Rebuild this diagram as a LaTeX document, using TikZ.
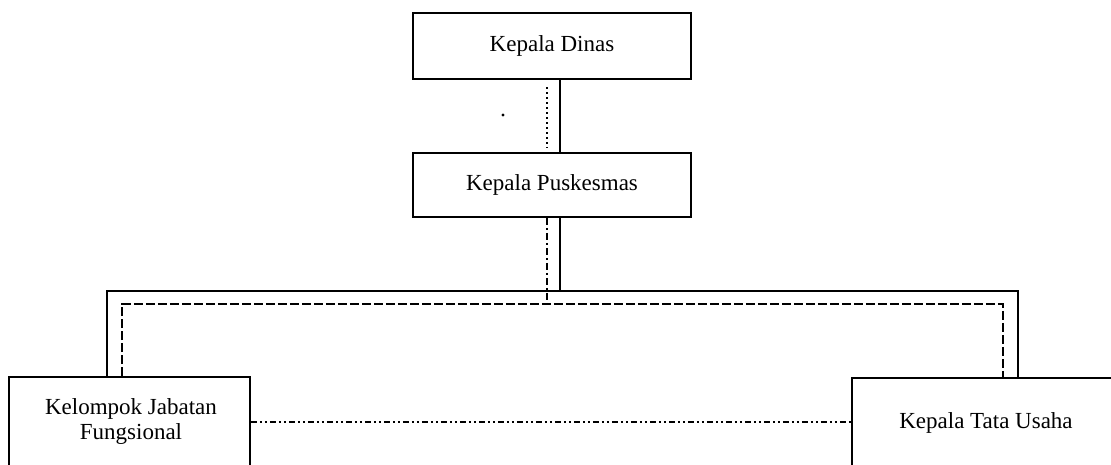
\documentclass[tikz,border=0pt]{standalone}
\usepackage{fontspec}
\setmainfont{Liberation Serif}
\begin{document}
\begin{tikzpicture}[x=1pt,y=-1pt,
  orgbox/.style={draw,line width=1.8pt,inner sep=0pt,minimum width=278pt},
  lbl/.style={font=\fontsize{23}{25}\selectfont,inner sep=0pt,align=center},
  solidline/.style={line width=1.8pt},
  dashline/.style={line width=1.5pt,dash pattern=on 9pt off 3pt},
  dashdot/.style={line width=1.5pt,dash pattern=on 7pt off 3pt on 2pt off 3pt},
  dotline/.style={line width=1.5pt,dash pattern=on 2pt off 3pt},
  dotdash/.style={line width=1.5pt,dash pattern=on 6pt off 3pt on 2pt off 3pt on 2pt off 3pt}]
\useasboundingbox (0,0) rectangle (1111,464);
\clip (0,0) rectangle (1111,464);
\fill[white] (0,0) rectangle (1111,464);
% boxes
\node[orgbox,minimum height=66pt] (dinas) at (552,46) {};
\node[orgbox,minimum height=64pt] (pusk) at (552,185) {};
\node[orgbox,minimum width=241pt,minimum height=113pt] (kjf) at (129.5,433.5) {};
\node[orgbox,minimum width=300pt,minimum height=113pt] (ktu) at (1002,434.5) {};
% labels
\node[lbl] (tdinas) at (552,46) {Kepala Dinas};
\node[lbl] (tpusk) at (552,185) {Kepala Puskesmas};
\node[lbl] (tkjf) at (131,421) {Kelompok Jabatan\\Fungsional};
\node[lbl] (tktu) at (986,423) {Kepala Tata Usaha};
% reference coordinates
\coordinate (sx) at (560,0);
\coordinate (dx) at (547,0);
\coordinate (lsx) at (107,0);
\coordinate (rsx) at (1018,0);
\coordinate (ldx) at (122,0);
\coordinate (rdx) at (1003,0);
\coordinate (sbar) at (0,291);
\coordinate (dbar) at (0,304);
\coordinate (dtop) at (0,87);
\coordinate (dbot) at (0,148);
\coordinate (hy) at (0,422);
\coordinate (dot1) at (503,115);
% solid line of command
\draw[solidline] (dinas.south -| sx) -- (pusk.north -| sx);
\draw[solidline] (pusk.south -| sx) -- (sx |- sbar);
\draw[solidline] (kjf.north -| lsx) |- (rsx |- sbar) -- (ktu.north -| rsx);
% coordination lines
\draw[dotline] (dx |- dtop) -- (dx |- dbot);
\fill (dot1) circle (1.6pt);
\draw[dashdot] (pusk.south -| dx) -- (dx |- dbar);
\draw[dashline] (kjf.north -| ldx) |- (rdx |- dbar) -- (ktu.north -| rdx);
\draw[dotdash] (kjf.east |- hy) -- (ktu.west |- hy);
\end{tikzpicture}
\end{document}
